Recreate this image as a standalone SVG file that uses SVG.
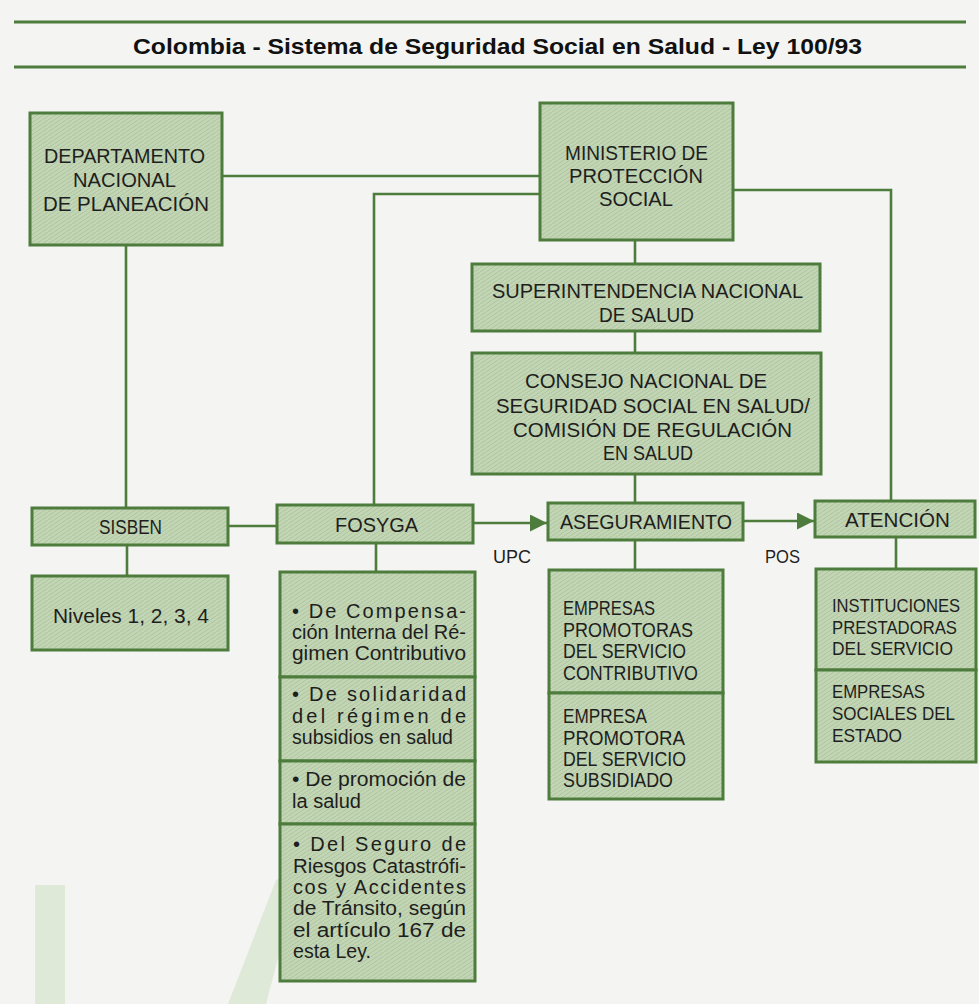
<svg xmlns="http://www.w3.org/2000/svg" width="979" height="1004" viewBox="0 0 979 1004">
<style>
.bx{fill:url(#hatch);stroke:#4d7c3d;stroke-width:3}
.cn{fill:none;stroke:#4d7c3d;stroke-width:2.6}
.t{font-family:"Liberation Sans",Arial,sans-serif;fill:#1e1e1e;font-size:21px}
.s{font-size:19.5px}
.r{font-size:18px}
.l{font-size:20px}
.u{font-size:17.5px}
.title{font-family:"Liberation Sans",Arial,sans-serif;font-weight:bold;font-size:22px;fill:#111}
.rule{stroke:#4d7c3d;stroke-width:3}
</style>
<defs>
<pattern id="hatch" width="6" height="4" patternUnits="userSpaceOnUse">
<rect width="6" height="4" fill="#c2d5b4"/>
<path d="M0,4 L6,0" stroke="#abc39b" stroke-width="0.9"/>
</pattern>
<marker id="arr" viewBox="0 0 10 10" refX="10" refY="5" markerWidth="17" markerHeight="17" markerUnits="userSpaceOnUse" orient="auto">
<path d="M0,0 L10,5 L0,10 z" fill="#4d7c3d"/>
</marker>
</defs>
<rect width="979" height="1004" fill="#f4f5f2"/>
<g id="decor" fill="#dfe9d8">
<rect x="35" y="885" width="30" height="119"/>
<polygon points="228,1004 276,880 302,868 266,1004"/>
</g>
<g id="header">
<line class="rule" x1="14" y1="22" x2="966" y2="22"/>
<text class="title" x="133" y="54" textLength="729" lengthAdjust="spacingAndGlyphs">Colombia - Sistema de Seguridad Social en Salud - Ley 100/93</text>
<line class="rule" x1="14" y1="67" x2="966" y2="67"/>
</g>
<g id="connectors">
<line class="cn" x1="222" y1="176" x2="540" y2="176"/>
<polyline class="cn" points="540,194 374,194 374,505"/>
<polyline class="cn" points="733,190 891,190 891,501"/>
<line class="cn" x1="635" y1="240" x2="635" y2="264"/>
<line class="cn" x1="635" y1="331" x2="635" y2="353"/>
<line class="cn" x1="635" y1="474" x2="635" y2="503"/>
<line class="cn" x1="126" y1="245" x2="126" y2="508"/>
<line class="cn" x1="228" y1="526" x2="277" y2="526"/>
<line class="cn" x1="127" y1="545" x2="127" y2="576"/>
<line class="cn" x1="376" y1="543" x2="376" y2="572"/>
<line class="cn" x1="473" y1="523" x2="547" y2="523" marker-end="url(#arr)"/>
<line class="cn" x1="743" y1="521" x2="814" y2="521" marker-end="url(#arr)"/>
<line class="cn" x1="635" y1="540" x2="635" y2="570"/>
<line class="cn" x1="896" y1="537" x2="896" y2="569"/>
<text class="t u" x="493" y="563" textLength="38" lengthAdjust="spacingAndGlyphs">UPC</text>
<text class="t u" x="765" y="563" textLength="35" lengthAdjust="spacingAndGlyphs">POS</text>
</g>
<g id="dnp">
<rect class="bx" x="30" y="113" width="192" height="132"/>
<text class="t" x="44" y="163" textLength="161" lengthAdjust="spacingAndGlyphs">DEPARTAMENTO</text>
<text class="t" x="73" y="187" textLength="103" lengthAdjust="spacingAndGlyphs">NACIONAL</text>
<text class="t" x="43" y="211" textLength="166" lengthAdjust="spacingAndGlyphs">DE PLANEACIÓN</text>
</g>
<g id="ministerio">
<rect class="bx" x="540" y="103" width="193" height="137"/>
<text class="t" x="565" y="160" textLength="143" lengthAdjust="spacingAndGlyphs">MINISTERIO DE</text>
<text class="t" x="569" y="183" textLength="134" lengthAdjust="spacingAndGlyphs">PROTECCIÓN</text>
<text class="t" x="599" y="206" textLength="74" lengthAdjust="spacingAndGlyphs">SOCIAL</text>
</g>
<g id="superintendencia">
<rect class="bx" x="472" y="264" width="348" height="67"/>
<text class="t" x="492" y="298" textLength="311" lengthAdjust="spacingAndGlyphs">SUPERINTENDENCIA NACIONAL</text>
<text class="t" x="599" y="322" textLength="95" lengthAdjust="spacingAndGlyphs">DE SALUD</text>
</g>
<g id="consejo">
<rect class="bx" x="472" y="353" width="349" height="121"/>
<text class="t" x="525" y="388" textLength="242" lengthAdjust="spacingAndGlyphs">CONSEJO NACIONAL DE</text>
<text class="t" x="496" y="413" textLength="314" lengthAdjust="spacingAndGlyphs">SEGURIDAD SOCIAL EN SALUD/</text>
<text class="t" x="513" y="437" textLength="279" lengthAdjust="spacingAndGlyphs">COMISIÓN DE REGULACIÓN</text>
<text class="t" x="603" y="460" textLength="90" lengthAdjust="spacingAndGlyphs">EN SALUD</text>
</g>
<g id="sisben">
<rect class="bx" x="32" y="508" width="196" height="37"/>
<text class="t" x="99" y="534" textLength="63" lengthAdjust="spacingAndGlyphs">SISBEN</text>
</g>
<g id="niveles">
<rect class="bx" x="32" y="576" width="196" height="74"/>
<text class="t" x="53" y="623" textLength="156" lengthAdjust="spacingAndGlyphs">Niveles 1, 2, 3, 4</text>
</g>
<g id="fosyga">
<rect class="bx" x="277" y="505" width="196" height="38"/>
<text class="t" x="335" y="532" textLength="83" lengthAdjust="spacingAndGlyphs">FOSYGA</text>
</g>
<g id="fosyga-subcuentas">
<rect class="bx" x="280" y="572" width="195" height="105"/>
<rect class="bx" x="280" y="677" width="195" height="84"/>
<rect class="bx" x="280" y="761" width="195" height="63"/>
<rect class="bx" x="280" y="824" width="195" height="157"/>
<text class="t l" x="292" y="618" textLength="174" lengthAdjust="spacing">• De Compensa-</text>
<text class="t l" x="292" y="639" textLength="174" lengthAdjust="spacingAndGlyphs">ción Interna del Ré-</text>
<text class="t l" x="292" y="660" textLength="174" lengthAdjust="spacingAndGlyphs">gimen Contributivo</text>
<text class="t l" x="292" y="701" textLength="174" lengthAdjust="spacing">• De solidaridad</text>
<text class="t l" x="292" y="723" textLength="174" lengthAdjust="spacing">del régimen de</text>
<text class="t l" x="292" y="744" textLength="161" lengthAdjust="spacingAndGlyphs">subsidios en salud</text>
<text class="t l" x="292" y="786" textLength="174" lengthAdjust="spacingAndGlyphs">• De promoción de</text>
<text class="t l" x="292" y="808" textLength="69" lengthAdjust="spacingAndGlyphs">la salud</text>
<text class="t l" x="293" y="851" textLength="173" lengthAdjust="spacing">• Del Seguro de</text>
<text class="t l" x="293" y="873" textLength="173" lengthAdjust="spacingAndGlyphs">Riesgos Catastrófi-</text>
<text class="t l" x="293" y="894" textLength="173" lengthAdjust="spacing">cos y Accidentes</text>
<text class="t l" x="293" y="915" textLength="173" lengthAdjust="spacingAndGlyphs">de Tránsito, según</text>
<text class="t l" x="293" y="937" textLength="173" lengthAdjust="spacingAndGlyphs">el artículo 167 de</text>
<text class="t l" x="293" y="958" textLength="78" lengthAdjust="spacingAndGlyphs">esta Ley.</text>
</g>
<g id="aseguramiento">
<rect class="bx" x="548" y="503" width="195" height="37"/>
<text class="t" x="560" y="529" textLength="172" lengthAdjust="spacingAndGlyphs">ASEGURAMIENTO</text>
</g>
<g id="empresas-promotoras">
<rect class="bx" x="549" y="570" width="174" height="123"/>
<rect class="bx" x="549" y="693" width="174" height="106"/>
<text class="t s" x="563" y="615" textLength="92" lengthAdjust="spacingAndGlyphs">EMPRESAS</text>
<text class="t s" x="563" y="637" textLength="130" lengthAdjust="spacingAndGlyphs">PROMOTORAS</text>
<text class="t s" x="563" y="658" textLength="123" lengthAdjust="spacingAndGlyphs">DEL SERVICIO</text>
<text class="t s" x="563" y="680" textLength="135" lengthAdjust="spacingAndGlyphs">CONTRIBUTIVO</text>
<text class="t s" x="563" y="723" textLength="84" lengthAdjust="spacingAndGlyphs">EMPRESA</text>
<text class="t s" x="563" y="745" textLength="122" lengthAdjust="spacingAndGlyphs">PROMOTORA</text>
<text class="t s" x="563" y="766" textLength="123" lengthAdjust="spacingAndGlyphs">DEL SERVICIO</text>
<text class="t s" x="563" y="787" textLength="110" lengthAdjust="spacingAndGlyphs">SUBSIDIADO</text>
</g>
<g id="atencion">
<rect class="bx" x="815" y="501" width="160" height="36"/>
<text class="t" x="845" y="527" textLength="105" lengthAdjust="spacingAndGlyphs">ATENCIÓN</text>
</g>
<g id="instituciones">
<rect class="bx" x="816" y="569" width="160" height="101"/>
<rect class="bx" x="816" y="670" width="160" height="92"/>
<text class="t r" x="832" y="612" textLength="128" lengthAdjust="spacingAndGlyphs">INSTITUCIONES</text>
<text class="t r" x="832" y="634" textLength="125" lengthAdjust="spacingAndGlyphs">PRESTADORAS</text>
<text class="t r" x="832" y="655" textLength="121" lengthAdjust="spacingAndGlyphs">DEL SERVICIO</text>
<text class="t r" x="832" y="698" textLength="93" lengthAdjust="spacingAndGlyphs">EMPRESAS</text>
<text class="t r" x="832" y="720" textLength="123" lengthAdjust="spacingAndGlyphs">SOCIALES DEL</text>
<text class="t r" x="832" y="742" textLength="70" lengthAdjust="spacingAndGlyphs">ESTADO</text>
</g>
</svg>
